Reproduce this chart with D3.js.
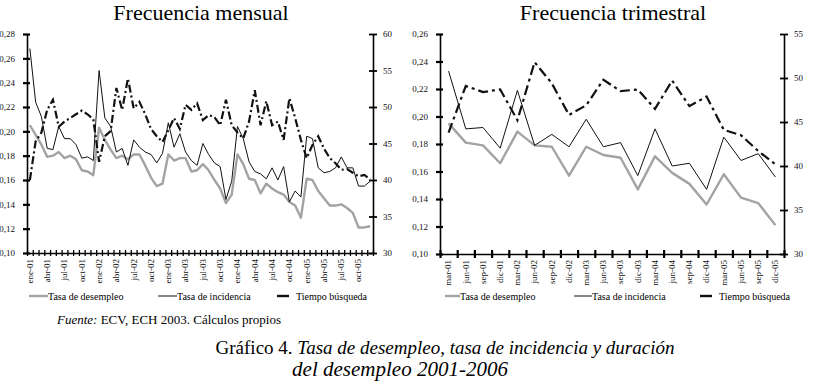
<!DOCTYPE html>
<html>
<head>
<meta charset="utf-8">
<script src="https://cdn.jsdelivr.net/npm/d3@7"></script>
<style>
  body { margin: 0; background: #fff; }
  svg text { font-family: "Liberation Serif", "DejaVu Serif", serif; }
</style>
</head>
<body>
<div id="chart"></div>
<script>
// categorias
const mesAbrev = ["ene", "feb", "mar", "abr", "may", "jun", "jul", "ago", "sep", "oct", "nov", "dic"];
const anios = ["01", "02", "03", "04", "05"];
const meses = anios.flatMap(a => mesAbrev.map(m => m + "-" + a));
const trimestres = ["mar-01", "jun-01", "sep-01", "dic-01", "mar-02", "jun-02", "sep-02", "dic-02",
  "mar-03", "jun-03", "sep-03", "dic-03", "mar-04", "jun-04", "sep-04", "dic-04",
  "mar-05", "jun-05", "sep-05", "dic-05"];

// frecuencia mensual
const desempleoMensual = [0.205, 0.197, 0.189, 0.179, 0.180, 0.183, 0.178, 0.180, 0.177, 0.168,
  0.167, 0.164, 0.203, 0.193, 0.185, 0.178, 0.180, 0.177, 0.181, 0.181,
  0.172, 0.162, 0.155, 0.157, 0.181, 0.176, 0.178, 0.178, 0.167, 0.168,
  0.173, 0.168, 0.160, 0.153, 0.141, 0.148, 0.181, 0.173, 0.161, 0.160,
  0.149, 0.157, 0.153, 0.150, 0.148, 0.142, 0.139, 0.129, 0.161, 0.160,
  0.151, 0.145, 0.139, 0.139, 0.140, 0.137, 0.133, 0.121, 0.121, 0.122];
const incidenciaMensual = [0.268, 0.224, 0.212, 0.186, 0.185, 0.204, 0.194, 0.194, 0.189, 0.178,
  0.179, 0.176, 0.250, 0.211, 0.204, 0.183, 0.186, 0.172, 0.193, 0.187,
  0.183, 0.181, 0.174, 0.182, 0.207, 0.187, 0.198, 0.183, 0.176, 0.172,
  0.190, 0.181, 0.174, 0.171, 0.144, 0.159, 0.204, 0.194, 0.175, 0.167,
  0.165, 0.161, 0.170, 0.160, 0.171, 0.142, 0.151, 0.146, 0.196, 0.194,
  0.170, 0.166, 0.167, 0.170, 0.179, 0.170, 0.170, 0.155, 0.155, 0.159];
const busquedaMensual = [40.0, 45.3, 46.5, 49.6, 51.0, 47.3, 48.0, 48.5, 49.0, 49.5,
  49.0, 48.3, 42.5, 46.0, 46.7, 52.6, 49.6, 53.9, 49.8, 50.7,
  49.0, 47.0, 46.0, 45.2, 46.8, 48.5, 47.0, 50.3, 49.6, 50.5,
  48.2, 48.9, 48.6, 47.5, 51.0, 47.5, 46.5, 45.7, 48.0, 52.3,
  47.5, 50.8, 47.5, 48.0, 45.5, 51.2, 48.5, 45.5, 43.0, 44.8,
  46.0, 44.3, 43.0, 42.3, 41.4, 41.5, 41.0, 40.5, 40.7, 40.1];

// frecuencia trimestral
const desempleoTrim = [0.195, 0.181, 0.179, 0.166, 0.189, 0.179, 0.178, 0.157, 0.178, 0.172,
  0.170, 0.147, 0.171, 0.159, 0.151, 0.136, 0.158, 0.141, 0.137, 0.121];
const incidenciaTrim = [0.233, 0.191, 0.192, 0.177, 0.219, 0.179, 0.187, 0.178, 0.198, 0.178,
  0.181, 0.157, 0.191, 0.164, 0.166, 0.147, 0.185, 0.168, 0.173, 0.156];
const busquedaTrim = [43.8, 49.1, 48.4, 48.7, 45.2, 51.8, 49.4, 45.8, 46.9, 49.8,
  48.5, 48.7, 46.5, 49.7, 46.8, 47.9, 44.1, 43.5, 41.7, 40.2];

// ejes
const ticksTasaMensual = [0.10, 0.12, 0.14, 0.16, 0.18, 0.20, 0.22, 0.24, 0.26, 0.28];
const ticksTiempoMensual = [30, 35, 40, 45, 50, 55, 60];
const ticksTasaTrim = [0.10, 0.12, 0.14, 0.16, 0.18, 0.20, 0.22, 0.24, 0.26];
const ticksTiempoTrim = [30, 35, 40, 45, 50, 55];

const width = 817, height = 385;
const serif = "'Liberation Serif', 'DejaVu Serif', serif";
const coma = d => d3.format(".2f")(d).replace(".", ",");

const svg = d3.select("#chart").append("svg")
  .attr("width", width)
  .attr("height", height)
  .attr("font-family", serif);

function panel(o) {
  const x = d3.scaleBand().domain(o.cats).range([o.left, o.right]);
  const xb = d3.scaleLinear().domain([0, o.cats.length]).range([o.left, o.right]);
  const y = d3.scaleLinear().domain(o.yDomain).range([o.bottom, o.top]);
  const y2 = d3.scaleLinear().domain(o.y2Domain).range([o.bottom, o.top]);
  const cx = d => x(d) + x.bandwidth() / 2;

  const g = svg.append("g");

  // titulo
  g.append("text")
    .attr("x", o.titleX)
    .attr("y", 20)
    .attr("text-anchor", "middle")
    .style("font-size", "22px")
    .text(o.title);

  // eje x: marcas entre meses
  const xt = g.append("g")
    .attr("transform", `translate(0,${o.bottom})`)
    .call(d3.axisBottom(xb).tickValues(d3.range(o.cats.length + 1)).tickFormat("").tickSizeOuter(0));
  xt.select(".domain").attr("stroke-width", 1.6);
  xt.selectAll(".tick line").attr("y1", -o.xTick).attr("y2", o.xTick).attr("stroke-width", o.xTickW);

  // etiquetas x
  const xl = g.append("g")
    .attr("transform", `translate(0,${o.bottom})`)
    .call(d3.axisBottom(x).tickValues(o.labels).tickSize(0));
  xl.attr("font-family", serif);
  xl.select(".domain").remove();
  xl.selectAll("text")
    .attr("transform", "rotate(-90)")
    .attr("x", -6)
    .attr("y", 0)
    .attr("dy", "0.32em")
    .style("text-anchor", "end")
    .style("font-size", "9px")
    .attr("fill", "#111");

  // eje izquierdo
  const yl = g.append("g")
    .attr("transform", `translate(${o.left},0)`)
    .call(d3.axisLeft(y).tickValues(o.yTicks).tickFormat(coma).tickSizeOuter(0).tickPadding(6));
  yl.attr("font-family", serif);
  yl.select(".domain").attr("stroke-width", 1.6);
  yl.selectAll(".tick line").attr("x1", -4).attr("x2", 3).attr("stroke-width", 2.2);
  yl.selectAll("text").style("font-size", "9px").attr("fill", "#111");

  // eje derecho
  const yr = g.append("g")
    .attr("transform", `translate(${o.right},0)`)
    .call(d3.axisRight(y2).tickValues(o.y2Ticks).tickSizeOuter(0).tickPadding(4));
  yr.attr("font-family", serif);
  yr.select(".domain").attr("stroke-width", 1.6);
  yr.selectAll(".tick line").attr("x1", -4).attr("x2", 4).attr("stroke-width", 1.8);
  yr.selectAll("text").style("font-size", "9px").attr("fill", "#111");

  const line = sc => d3.line().x((d, i) => cx(o.cats[i])).y(d => sc(d));

  g.append("path").datum(o.desempleo)
    .attr("fill", "none").attr("stroke", "#a3a3a3").attr("stroke-width", 2.4)
    .attr("stroke-linejoin", "round")
    .attr("d", line(y));
  g.append("path").datum(o.incidencia)
    .attr("fill", "none").attr("stroke", "#111").attr("stroke-width", 1)
    .attr("d", line(y));
  g.append("path").datum(o.busqueda)
    .attr("fill", "none").attr("stroke", "#111").attr("stroke-width", 2.2)
    .attr("stroke-dasharray", o.dash)
    .attr("d", line(y2));

  // leyenda
  const ly = 296;
  const lg = g.append("g").style("font-size", "10px");
  lg.append("line").attr("x1", o.leg[0]).attr("x2", o.leg[0] + o.legLen[0]).attr("y1", ly).attr("y2", ly)
    .attr("stroke", "#a3a3a3").attr("stroke-width", 2.4);
  lg.append("text").attr("x", o.leg[0] + o.legLen[0]).attr("y", ly + 3.5).text("Tasa de desempleo");
  lg.append("line").attr("x1", o.leg[1]).attr("x2", o.leg[1] + o.legLen[1]).attr("y1", ly).attr("y2", ly)
    .attr("stroke", "#111").attr("stroke-width", 1);
  lg.append("text").attr("x", o.leg[1] + o.legLen[1]).attr("y", ly + 3.5).text("Tasa de incidencia");
  lg.append("line").attr("x1", o.leg[2]).attr("x2", o.leg[2] + 12).attr("y1", ly).attr("y2", ly)
    .attr("stroke", "#111").attr("stroke-width", 2.4);
  lg.append("text").attr("x", o.leg[2] + 19).attr("y", ly + 3.5).text("Tiempo búsqueda");
}

panel({
  title: "Frecuencia mensual", titleX: 201,
  cats: meses,
  labels: meses.filter((d, i) => i % 3 === 0),
  left: 27, right: 373, top: 34, bottom: 253,
  yDomain: [0.10, 0.28], y2Domain: [30, 60],
  yTicks: ticksTasaMensual, y2Ticks: ticksTiempoMensual,
  xTick: 3, xTickW: 1.3,
  desempleo: desempleoMensual, incidencia: incidenciaMensual, busqueda: busquedaMensual,
  dash: "8,3,2,3",
  leg: [29, 158, 277], legLen: [19, 19]
});

panel({
  title: "Frecuencia trimestral", titleX: 613,
  cats: trimestres,
  labels: trimestres,
  left: 440, right: 784, top: 34, bottom: 254,
  yDomain: [0.10, 0.26], y2Domain: [30, 55],
  yTicks: ticksTasaTrim, y2Ticks: ticksTiempoTrim,
  xTick: 4, xTickW: 2.2,
  desempleo: desempleoTrim, incidencia: incidenciaTrim, busqueda: busquedaTrim,
  dash: "10,4,3,4",
  leg: [445, 574, 700], legLen: [15, 18]
});

// fuente y titulo
const pie = svg.append("text").attr("x", 57).attr("y", 324).style("font-size", "13px");
pie.append("tspan").style("font-style", "italic").text("Fuente:");
pie.append("tspan").text(" ECV, ECH 2003. Cálculos propios");

const t1 = svg.append("text").attr("x", 445).attr("y", 354).attr("text-anchor", "middle")
  .style("font-size", "19px");
t1.append("tspan").text("Gráfico 4. ");
t1.append("tspan").style("font-style", "italic").text("Tasa de desempleo, tasa de incidencia y duración");
svg.append("text").attr("x", 400).attr("y", 376).attr("text-anchor", "middle")
  .style("font-size", "21px").style("font-style", "italic")
  .text("del desempleo 2001-2006");
</script>
</body>
</html>
